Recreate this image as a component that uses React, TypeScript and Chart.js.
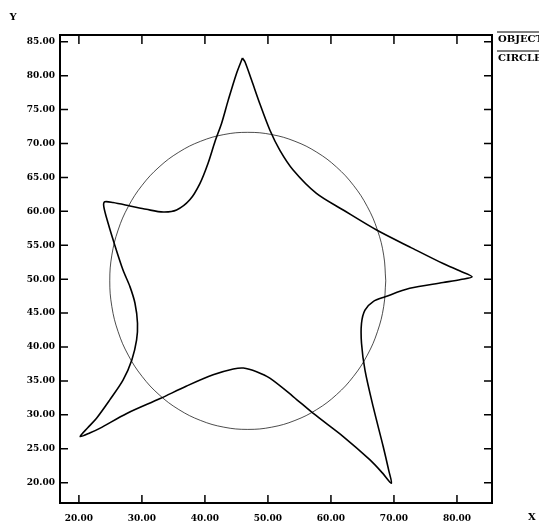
import React, { useEffect, useRef } from "react";
import { Chart, registerables } from "chart.js";

Chart.register(...registerables);

// OBJECT curve (closed), starting at the top spike going counter-clockwise
const objectX = [
  45.95, 45.0, 43.7, 42.65, 41.6, 40.5, 39.2, 37.6, 35.5, 33.4, 30.7, 28.1, 25.4, 24.1, 23.95,
  24.65, 25.6, 27.0, 28.1, 28.9, 29.3, 29.15, 28.4, 27.0, 24.9, 22.8, 21.4, 20.2, 21.8, 23.3, 27.6, 32.9,
  37.1, 41.3, 44.5, 46.1, 48.2, 50.3, 54.0, 57.2, 61.95, 66.2, 68.2, 69.6, 69.2, 68.3, 66.7, 65.4, 64.85,
  64.85, 65.4, 66.7, 68.6, 72.5, 77.8, 80.6, 82.4, 80.5, 77.8, 73.05, 67.25, 61.95, 57.7, 54.0, 51.9, 50.3,
  48.7, 47.4, 46.35, 45.95,
];
const objectY = [
  82.6, 80.3, 76.4, 73.0, 70.3, 67.1, 64.1, 61.7, 60.2, 59.9, 60.3, 60.8, 61.3, 61.4, 60.7,
  58.2, 55.3, 51.35, 48.9, 46.45, 43.5, 41.0, 38.1, 35.1, 32.2, 29.5, 28.1, 26.8, 27.35, 28.0, 30.2, 32.4,
  34.25, 35.9, 36.75, 36.9, 36.35, 35.4, 32.7, 30.2, 26.8, 23.35, 21.4, 19.9, 21.7, 25.3, 31.2, 36.6, 40.55,
  43.5, 45.45, 46.7, 47.4, 48.65, 49.5, 49.95, 50.35, 51.2, 52.3, 54.5, 57.25, 60.2, 62.65, 66.1, 69.0, 72.0,
  75.9, 79.35, 82.05, 82.6,
];

// CIRCLE
const circleX = [
  68.7, 68.37, 67.38, 65.77, 63.58, 60.88, 57.75, 54.29, 50.6, 46.8, 43.0, 39.31, 35.85, 32.72,
  30.02, 27.83, 26.22, 25.23, 24.9, 25.23, 26.22, 27.83, 30.02, 32.72, 35.85, 39.31, 43.0, 46.8,
  50.6, 54.29, 57.75, 60.88, 63.58, 65.77, 67.38, 68.37, 68.7,
];
const circleY = [
  49.75, 53.55, 57.24, 60.7, 63.83, 66.53, 68.72, 70.33, 71.32, 71.65, 71.32, 70.33, 68.72, 66.53,
  63.83, 60.7, 57.24, 53.55, 49.75, 45.95, 42.26, 38.8, 35.67, 32.97, 30.78, 29.17, 28.18, 27.85,
  28.18, 29.17, 30.78, 32.97, 35.67, 38.8, 42.26, 45.95, 49.75,
];

const xTicks = [20, 30, 40, 50, 60, 70, 80];
const yTicks = [20, 25, 30, 35, 40, 45, 50, 55, 60, 65, 70, 75, 80, 85];
const legendLabels = ["OBJECT", "CIRCLE"];
const xTitle = "X";
const yTitle = "Y";

const FONT = "'DejaVu Serif', serif";

const framePlugin = {
  id: "frame",
  afterDraw(chart: any) {
    const { ctx, chartArea: a, scales } = chart;
    ctx.save();
    ctx.strokeStyle = "#000";
    ctx.lineWidth = 2;
    ctx.strokeRect(a.left, a.top, a.right - a.left, a.bottom - a.top);
    ctx.lineWidth = 1.5;
    ctx.beginPath();
    for (const v of xTicks) {
      const px = scales.x.getPixelForValue(v);
      ctx.moveTo(px, a.bottom);
      ctx.lineTo(px, a.bottom - 8);
      ctx.moveTo(px, a.top);
      ctx.lineTo(px, a.top + 9);
    }
    for (const v of yTicks) {
      const py = scales.y.getPixelForValue(v);
      ctx.moveTo(a.left, py);
      ctx.lineTo(a.left + 8, py);
      ctx.moveTo(a.right, py);
      ctx.lineTo(a.right - 8, py);
    }
    ctx.stroke();

    ctx.fillStyle = "#000";
    ctx.font = `bold 10px ${FONT}`;
    ctx.textAlign = "center";
    ctx.textBaseline = "middle";
    ctx.fillText(yTitle, a.left - 47, a.top - 18);
    ctx.fillText(xTitle, a.right + 40, a.bottom + 14);

    ctx.textAlign = "left";
    ctx.font = `bold 10px ${FONT}`;
    legendLabels.forEach((lab, i) => {
      const yl = a.top - 3 + i * 19;
      ctx.lineWidth = 1;
      ctx.beginPath();
      ctx.moveTo(a.right + 5, yl);
      ctx.lineTo(a.right + 50, yl);
      ctx.stroke();
      ctx.fillText(lab, a.right + 6, yl + 7);
    });
    ctx.restore();
  },
};

export default function App() {
  const ref = useRef<HTMLCanvasElement | null>(null);

  useEffect(() => {
    if (!ref.current) return;
    const chart = new Chart(ref.current, {
      type: "scatter",
      data: {
        datasets: [
          {
            label: legendLabels[0],
            data: objectX.map((x, i) => ({ x, y: objectY[i] })),
            showLine: true,
            borderColor: "#000",
            borderWidth: 1.6,
            pointRadius: 0,
            tension: 0.3,
            fill: false,
          },
          {
            label: legendLabels[1],
            data: circleX.map((x, i) => ({ x, y: circleY[i] })),
            showLine: true,
            borderColor: "rgba(0,0,0,0.7)",
            borderWidth: 1,
            pointRadius: 0,
            tension: 0.4,
            fill: false,
          },
        ],
      },
      options: {
        animation: false,
        responsive: false,
        devicePixelRatio: 1,
        layout: { padding: { top: 35, right: 47, left: 0, bottom: 0 } },
        plugins: {
          legend: { display: false },
          tooltip: { enabled: false },
        },
        scales: {
          x: {
            type: "linear",
            min: 17,
            max: 85.56,
            grid: { display: false, drawTicks: false },
            border: { display: false },
            afterBuildTicks: (s: any) => {
              s.ticks = xTicks.map((v) => ({ value: v }));
            },
            afterFit: (s: any) => {
              s.height = 22;
            },
            ticks: {
              padding: 10,
              color: "#000",
              font: { family: FONT, size: 9, weight: "bold" },
              callback: (v: any) => Number(v).toFixed(2),
            },
          },
          y: {
            type: "linear",
            min: 17,
            max: 86,
            grid: { display: false, drawTicks: false },
            border: { display: false },
            afterBuildTicks: (s: any) => {
              s.ticks = yTicks.map((v) => ({ value: v }));
            },
            afterFit: (s: any) => {
              s.width = 60;
            },
            ticks: {
              padding: 5,
              color: "#000",
              font: { family: FONT, size: 9, weight: "bold" },
              callback: (v: any) => Number(v).toFixed(2),
            },
          },
        },
      },
      plugins: [framePlugin],
    } as any);
    return () => chart.destroy();
  }, []);

  return (
    <div style={{ position: "absolute", left: 0, top: 0, width: 539, height: 525 }}>
      <canvas ref={ref} width={539} height={525} style={{ display: "block", width: 539, height: 525 }} />
    </div>
  );
}
